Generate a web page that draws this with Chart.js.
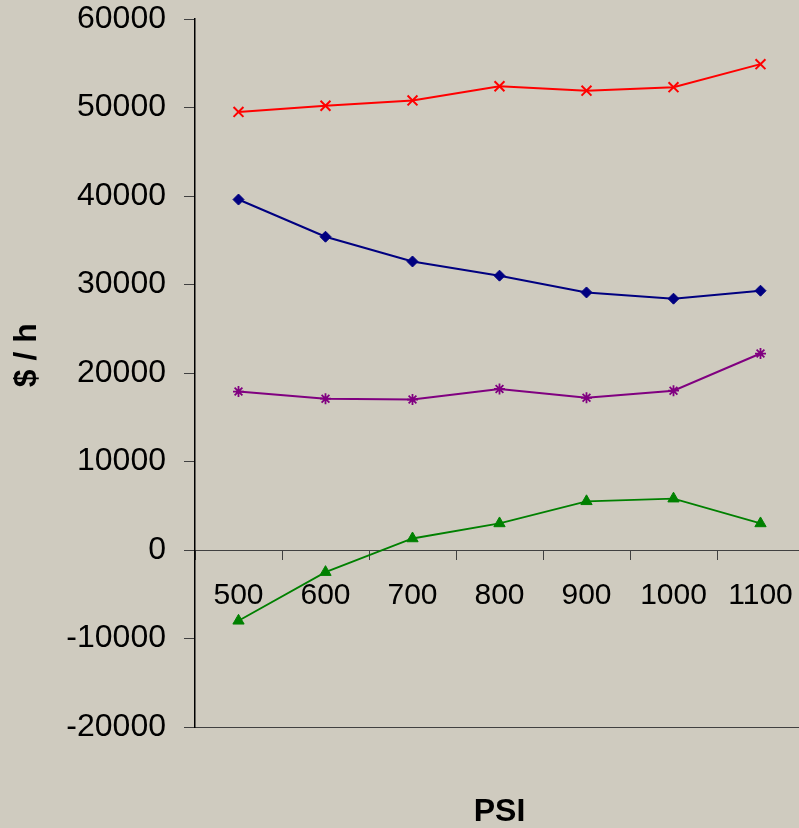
<!DOCTYPE html>
<html>
<head>
<meta charset="utf-8">
<script src="https://cdn.jsdelivr.net/npm/chart.js@4/dist/chart.umd.min.js"></script>
<style>
  html, body { margin: 0; padding: 0; overflow: hidden; background: #CFCBBF; }
  canvas { display: block; }
</style>
</head>
<body>
<canvas id="c" width="813" height="828"></canvas>
<script>
// Pressure settings (PSI)
const categories = ['500', '600', '700', '800', '900', '1000', '1100'];

// Hourly figures in $ / h for each pressure setting
const seriesRed    = [49500, 50200, 50800, 52400, 51900, 52300, 54900];
const seriesBlue   = [39600, 35400, 32600, 31000, 29100, 28400, 29300];
const seriesPurple = [17900, 17100, 17000, 18200, 17200, 18000, 22200];
const seriesGreen  = [-8000, -2500, 1300, 3000, 5500, 5800, 3000];

// Value axis range
const yMin = -20000;
const yMax = 60000;
const yStep = 10000;

const FONT = '"Liberation Sans", Arial, sans-serif';

function line(data, color, style, radius, width, pointWidth) {
  return {
    data: data,
    borderColor: color,
    backgroundColor: color,
    borderWidth: width,
    pointStyle: style,
    pointRadius: radius,
    pointBorderWidth: pointWidth,
    pointBorderColor: color,
    pointBackgroundColor: color,
    tension: 0,
    fill: false
  };
}

new Chart(document.getElementById('c'), {
  type: 'line',
  data: {
    labels: categories,
    datasets: [
      line(seriesRed, '#FF0000', 'crossRot', 7, 2, 2),
      line(seriesBlue, '#000080', 'rectRot', 5.5, 2, 1),
      line(seriesPurple, '#800080', 'star', 5.5, 2, 1.8),
      line(seriesGreen, '#008000', 'triangle', 6.5, 1.8, 1)
    ]
  },
  options: {
    responsive: false,
    animation: false,
    devicePixelRatio: 1,
    layout: { padding: 0 },
    plugins: {
      legend: { display: false },
      tooltip: { enabled: false }
    },
    scales: {
      x: {
        type: 'category',
        position: { y: 0 },
        offset: true,
        grid: {
          display: true,
          drawOnChartArea: false,
          drawTicks: true,
          offset: true,
          tickLength: 9,
          color: '#404040',
          lineWidth: 1
        },
        border: { display: true, color: '#404040', width: 1 },
        ticks: {
          color: '#000',
          font: { family: FONT, size: 30 },
          padding: 19,
          maxRotation: 0,
          autoSkip: false
        },
        title: { display: false }
      },
      xTitle: {
        type: 'category',
        axis: 'x',
        position: 'bottom',
        offset: true,
        grid: { display: true, drawOnChartArea: false, drawTicks: false, color: 'rgba(0,0,0,0)' },
        border: { display: true, color: '#404040', width: 1 },
        ticks: { display: false },
        title: {
          display: true,
          text: 'PSI',
          color: '#000',
          font: { family: FONT, size: 32, weight: 'bold', lineHeight: 1 },
          padding: { top: 0, bottom: 0 }
        },
        afterFit(scale) {
          scale.height = 101;
        }
      },
      y: {
        type: 'linear',
        position: 'left',
        min: yMin,
        max: yMax,
        grid: {
          display: true,
          drawOnChartArea: false,
          drawTicks: true,
          tickLength: 11,
          color: '#404040',
          lineWidth: 1
        },
        border: { display: true, color: '#000', width: 1.5 },
        ticks: {
          stepSize: yStep,
          color: '#000',
          font: { family: FONT, size: 32 },
          padding: 18,
          callback: (v) => String(v)
        },
        title: {
          display: true,
          text: '    $ / h',
          color: '#000',
          font: { family: FONT, size: 32, weight: 'bold', lineHeight: 1 },
          padding: { top: 11, bottom: 0 }
        },
        afterFit(scale) {
          scale.width = 195;
          scale.paddingTop = 19;
          scale.paddingBottom = 0;
        }
      }
    }
  }
});
</script>
</body>
</html>
